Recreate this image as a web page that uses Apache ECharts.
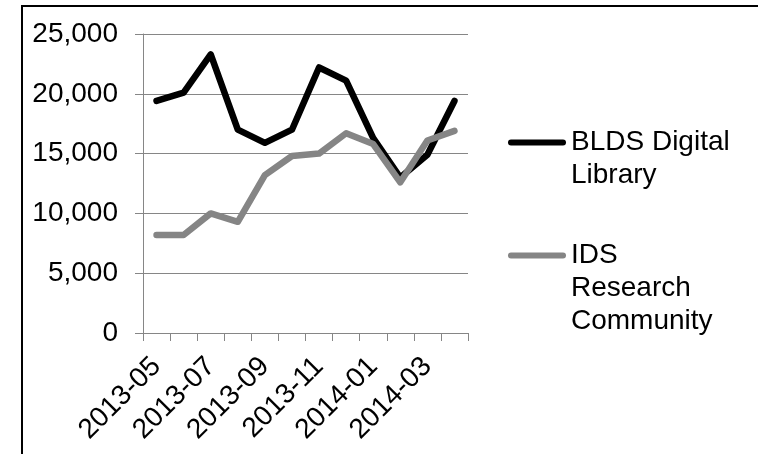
<!DOCTYPE html>
<html><head><meta charset="utf-8">
<script src="https://cdn.jsdelivr.net/npm/echarts@6/dist/echarts.min.js"></script>
<style>html,body{margin:0;padding:0;background:#fff}#c{width:758px;height:454px}</style>
</head><body><div id="c"></div>
<script>
var categories = ['2013-05','2013-06','2013-07','2013-08','2013-09','2013-10','2013-11','2013-12','2014-01','2014-02','2014-03','2014-04'];
var seriesNames = ['BLDS Digital Library', 'IDS Research Community'];
var legendLabels = ['BLDS Digital\nLibrary', 'IDS\nResearch\nCommunity'];
var bldsValues = [19400, 20100, 23300, 17000, 15900, 17000, 22200, 21100, 16300, 13000, 14900, 19400];
var idsValues = [8200, 8200, 10000, 9300, 13200, 14800, 15000, 16700, 15800, 12600, 16100, 16900];
var yTicks = { min: 0, max: 25000, interval: 5000 };

var FONT = '"Liberation Sans", Arial, sans-serif';
var chart = echarts.init(document.getElementById('c'), null, { renderer: 'canvas' });

function padLegend(name) {
  var idx = seriesNames.indexOf(name);
  var txt = legendLabels[idx];
  var n = txt.split('\n').length;
  var pre = '';
  for (var i = 1; i < n; i++) pre += '\n';
  return pre + txt;
}

var icon = 'path://M3,0 L55,0 A3,3 0 0 1 55,6 L3,6 A3,3 0 0 1 3,0 Z';

chart.setOption({
  animation: false,
  backgroundColor: '#fff',
  grid: { left: 143, right: 290, top: 34, bottom: 121, containLabel: false },
  xAxis: {
    type: 'category',
    data: categories,
    boundaryGap: true,
    axisLine: { show: true, lineStyle: { color: '#868686', width: 1 } },
    axisTick: { show: true, interval: 0, length: 8, lineStyle: { color: '#868686' } },
    axisLabel: { interval: 1, rotate: 45, margin: 29, color: '#000', fontFamily: FONT, fontSize: 28 },
    splitLine: { show: false }
  },
  yAxis: {
    type: 'value',
    min: yTicks.min, max: yTicks.max, interval: yTicks.interval,
    axisLine: { show: true, lineStyle: { color: '#868686', width: 1 } },
    axisTick: { show: true, length: 8, lineStyle: { color: '#868686' } },
    axisLabel: { margin: 25, color: '#000', fontFamily: FONT, fontSize: 28,
      formatter: function (v) { return v.toLocaleString('en-US'); } },
    splitLine: { show: true, lineStyle: { color: '#868686', width: 1 } }
  },
  legend: [
    { data: [seriesNames[0]], orient: 'vertical', left: 508, top: 93, padding: 0,
      itemWidth: 58, itemHeight: 6, icon: icon, formatter: padLegend,
      itemStyle: { borderWidth: 0 },
      textStyle: { color: '#000', fontFamily: FONT, fontSize: 28, lineHeight: 33 } },
    { data: [seriesNames[1]], orient: 'vertical', left: 508, top: 173, padding: 0,
      itemWidth: 58, itemHeight: 6, icon: icon, formatter: padLegend,
      itemStyle: { borderWidth: 0 },
      textStyle: { color: '#000', fontFamily: FONT, fontSize: 28, lineHeight: 33 } }
  ],
  series: [
    { name: seriesNames[0], type: 'line', data: bldsValues, symbol: 'none',
      color: '#000',
      lineStyle: { color: '#000', width: 6.5, join: 'round', cap: 'round' } },
    { name: seriesNames[1], type: 'line', data: idsValues, symbol: 'none',
      color: '#858585',
      lineStyle: { color: '#858585', width: 6.5, join: 'round', cap: 'round' } }
  ],
  graphic: [
    { type: 'rect', silent: true, z: 100,
      shape: { x: 22, y: 6, width: 800, height: 500 },
      style: { fill: null, stroke: '#000', lineWidth: 2 } }
  ]
});
</script></body></html>
